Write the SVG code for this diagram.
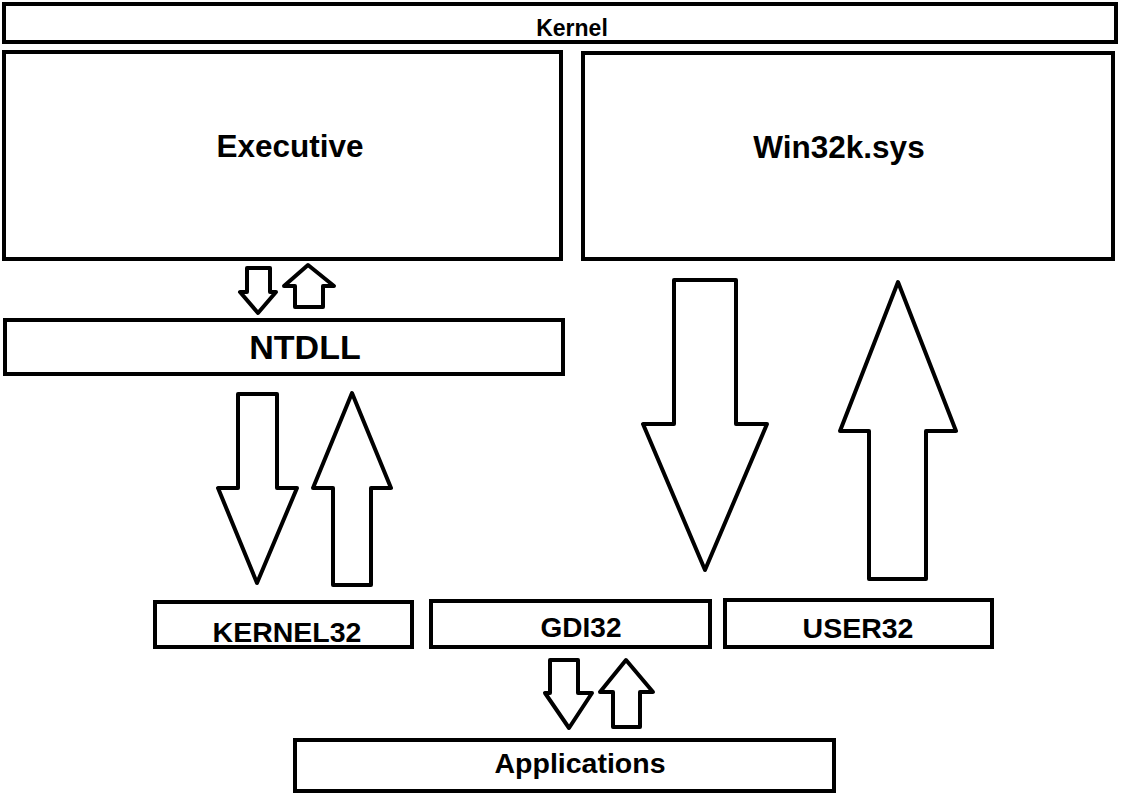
<svg xmlns="http://www.w3.org/2000/svg" width="1123" height="806" viewBox="0 0 1123 806">
<style>
.box{fill:#fff;stroke:#000;stroke-width:4}
.arr{fill:#fff;stroke:#000;stroke-width:4;stroke-linejoin:round}
text{font-family:"Liberation Sans",Arial,sans-serif;font-weight:bold;fill:#000;text-anchor:middle}
</style>
<rect width="1123" height="806" fill="#fff"/>
<g id="kernel"><rect class="box" x="4" y="4" width="1112" height="38"/><text x="572" y="36" font-size="23">Kernel</text></g>
<g id="executive"><rect class="box" x="4" y="52" width="557" height="207"/><text x="290" y="157" font-size="31.5">Executive</text></g>
<g id="win32k"><rect class="box" x="583" y="53" width="530" height="206"/><text x="839" y="158" font-size="31.5">Win32k.sys</text></g>
<g id="ntdll"><rect class="box" x="5" y="320" width="558" height="54"/><text x="305" y="359" font-size="34">NTDLL</text></g>
<g id="kernel32"><rect class="box" x="155" y="602" width="257" height="45"/><text x="287" y="642" font-size="28.5">KERNEL32</text></g>
<g id="gdi32"><rect class="box" x="431" y="601" width="279" height="46"/><text x="581" y="637" font-size="28">GDI32</text></g>
<g id="user32"><rect class="box" x="725" y="600" width="267" height="47"/><text x="858" y="638" font-size="28.5">USER32</text></g>
<g id="applications"><rect class="box" x="295" y="740" width="539" height="51"/><text x="580" y="773" font-size="28.5">Applications</text></g>
<g id="connectors">
<polygon class="arr" points="247,268 270,268 270,292 276,292 258,313 240,292 247,292"/>
<polygon class="arr" points="308,265 334,286 323,286 323,307 295,307 295,286 284,286"/>
<polygon class="arr" points="238,394 277,394 277,488 297,488 257,583 218,488 238,488"/>
<polygon class="arr" points="352,393 391,488 371,488 371,585 333,585 333,488 313,488"/>
<polygon class="arr" points="674,280 736,280 736,424 767,424 705,570 643,424 674,424"/>
<polygon class="arr" points="898,282 956,431 926,431 926,579 869,579 869,431 840,431"/>
<polygon class="arr" points="550,660 578,660 578,693 592,693 569,728 545,693 550,693"/>
<polygon class="arr" points="626,660 653,692 640,692 640,727 613,727 613,692 600,692"/>
</g>
</svg>
